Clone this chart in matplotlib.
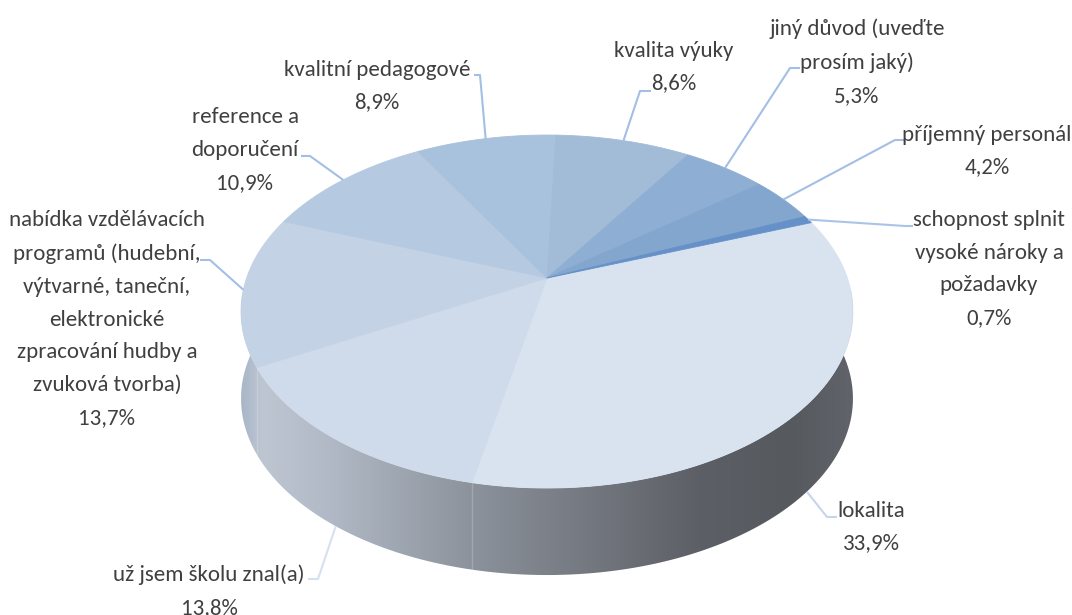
import numpy as np
import matplotlib
matplotlib.use("Agg")
import matplotlib.pyplot as plt
from matplotlib.patches import Polygon
from matplotlib import font_manager as fm

# ---------------- data ----------------
categories = [
    "lokalita",
    "už jsem školu znal(a)",
    "nabídka vzdělávacích\nprogramů (hudební,\nvýtvarné, taneční,\nelektronické\nzpracování hudby a\nzvuková tvorba)",
    "reference a\ndoporučení",
    "kvalitní pedagogové",
    "kvalita výuky",
    "jiný důvod (uveďte\nprosím jaký)",
    "příjemný personál",
    "schopnost splnit\nvysoké nároky a\npožadavky",
]
values = [33.9, 13.8, 13.7, 10.9, 8.9, 8.6, 5.3, 4.2, 0.7]

# ---------------- style ----------------
top_colors = ["#D9E3F0", "#CFDBEA", "#C3D2E5", "#B5C9E1", "#A8C1DC",
              "#A2BCD8", "#8EAED3", "#82A6CE", "#6591C8"]
leader_colors = ["#C5D5EC", "#D5E0F1", "#A3BFE6", "#A3BFE6", "#A3BFE6",
                 "#A3BFE6", "#A3BFE6", "#A3BFE6", "#A9C4E6"]
label_pos = [(871, 527), (209, 591), (107, 319), (245, 150), (377, 86),
             (674, 67), (857, 62), (987, 151), (989, 269)]
leader_pts = [((827, 517), (837, 517)), ((318, 579), (308, 579)),
              ((210, 260), (200, 260)), ((310, 156), (301, 156)),
              ((480, 75), (474, 75)), ((640, 91), (651, 91)),
              ((790, 68), (800, 68)), ((895, 140), (904, 140)),
              ((905, 226), (913, 226))]
TEXT_COLOR = "#404040"

# pick a Calibri-like sans if one is installed
_entries = fm.fontManager.ttflist
_names = {f.name for f in _entries}
font_prop = None
for cand in ["Carlito", "Liberation Sans Narrow", "Roboto Condensed",
             "Open Sans Condensed", "Noto Sans Condensed",
             "Noto Sans SemiCondensed"]:
    if cand in _names:
        font_prop = fm.FontProperties(family=[cand, "DejaVu Sans"])
        break
if font_prop is None:
    font_prop = fm.FontProperties(family=["Lato", "DejaVu Sans"])
    FS = 15.5
else:
    FS = 16.5
font_prop.set_size(FS)

# projection of the 3D pie (pixel space)
CX, CY = 547.0, 278.0
FOC, DIST = 1303.0, 4.338
ELEV = np.radians(34.5)
DEPTH_PX = 87.0
FIRST_ANGLE = 69.7   # Excel "angle of first slice" (deg from 12 o'clock)


def proj(theta_deg, drop=0.0, r=1.0):
    t = np.radians(np.asarray(theta_deg, dtype=float))
    x = r * np.cos(t)
    y = r * np.sin(t)
    s, c = np.sin(ELEV), np.cos(ELEV)
    w = DIST + y * c
    return CX + FOC * x / w, CY - FOC * y * s / w + drop


fig = plt.figure(figsize=(10.72, 6.15), dpi=100)
ax = fig.add_axes([0, 0, 1, 1])
ax.set_xlim(0, 1072)
ax.set_ylim(615, 0)
ax.axis("off")

start = 90.0 - FIRST_ANGLE
bounds = start - np.concatenate([[0], np.cumsum(values)]) / 100.0 * 360.0

# ---------------- side (front wall) ----------------
a_top = np.linspace(12, -192, 300)
xt, yt = proj(a_top)
xb, yb = proj(a_top[::-1], DEPTH_PX)
side_poly = Polygon(np.column_stack([np.r_[xt, xb], np.r_[yt, yb]]),
                    closed=True, facecolor="none", edgecolor="none")
ax.add_patch(side_poly)

gx = np.linspace(230, 865, 700)
stops_x = [241, 262, 330, 470, 560, 700, 790, 853]
stops_c = np.array([(168, 182, 200), (190, 198, 210), (176, 185, 197),
                    (140, 147, 156), (122, 126, 134), (92, 95, 101),
                    (86, 89, 94), (96, 99, 105)]) / 255.0
grad = np.stack([np.interp(gx, stops_x, stops_c[:, k]) for k in range(3)], axis=-1)
img = np.repeat(grad[None, :, :], 2, axis=0)
im = ax.imshow(img, extent=(230, 865, 600, 290), aspect="auto",
               interpolation="bilinear", zorder=1)
im.set_clip_path(side_poly)

for b in bounds:
    bb = ((b + 180) % 360) - 180
    if -190 < bb < 0:
        x0, y0 = proj(bb)
        x1, y1 = proj(bb, DEPTH_PX)
        ax.plot([x0, x1], [y0, y1], color="white", alpha=0.2, lw=1, zorder=2)

# ---------------- top faces ----------------
cx0, cy0 = proj(0.0, r=0.0)
for i in range(len(values)):
    a = np.linspace(bounds[i], bounds[i + 1], 120)
    px, py = proj(a)
    poly = Polygon(np.column_stack([np.r_[cx0, px], np.r_[cy0, py]]),
                   closed=True, facecolor=top_colors[i],
                   edgecolor=top_colors[i], lw=0.6, zorder=3)
    ax.add_patch(poly)

# ---------------- labels + leaders ----------------
for i, (cat, val) in enumerate(zip(categories, values)):
    mid = (bounds[i] + bounds[i + 1]) / 2.0
    drop = DEPTH_PX if np.sin(np.radians(mid)) < -0.5 else 0.0
    axp, ayp = proj(mid, drop)
    (px, py), (qx, qy) = leader_pts[i]
    ax.plot([axp, px, qx], [ayp, py, qy], color=leader_colors[i], lw=1.5,
            zorder=4, solid_capstyle="butt")
    txt = f"{cat}\n{val:.1f}%".replace(".", ",")
    ax.text(label_pos[i][0], label_pos[i][1], txt, ha="center", va="center",
            multialignment="center", fontproperties=font_prop,
            color=TEXT_COLOR, linespacing=1.8, zorder=5)

fig.savefig("out.png", dpi=100)
